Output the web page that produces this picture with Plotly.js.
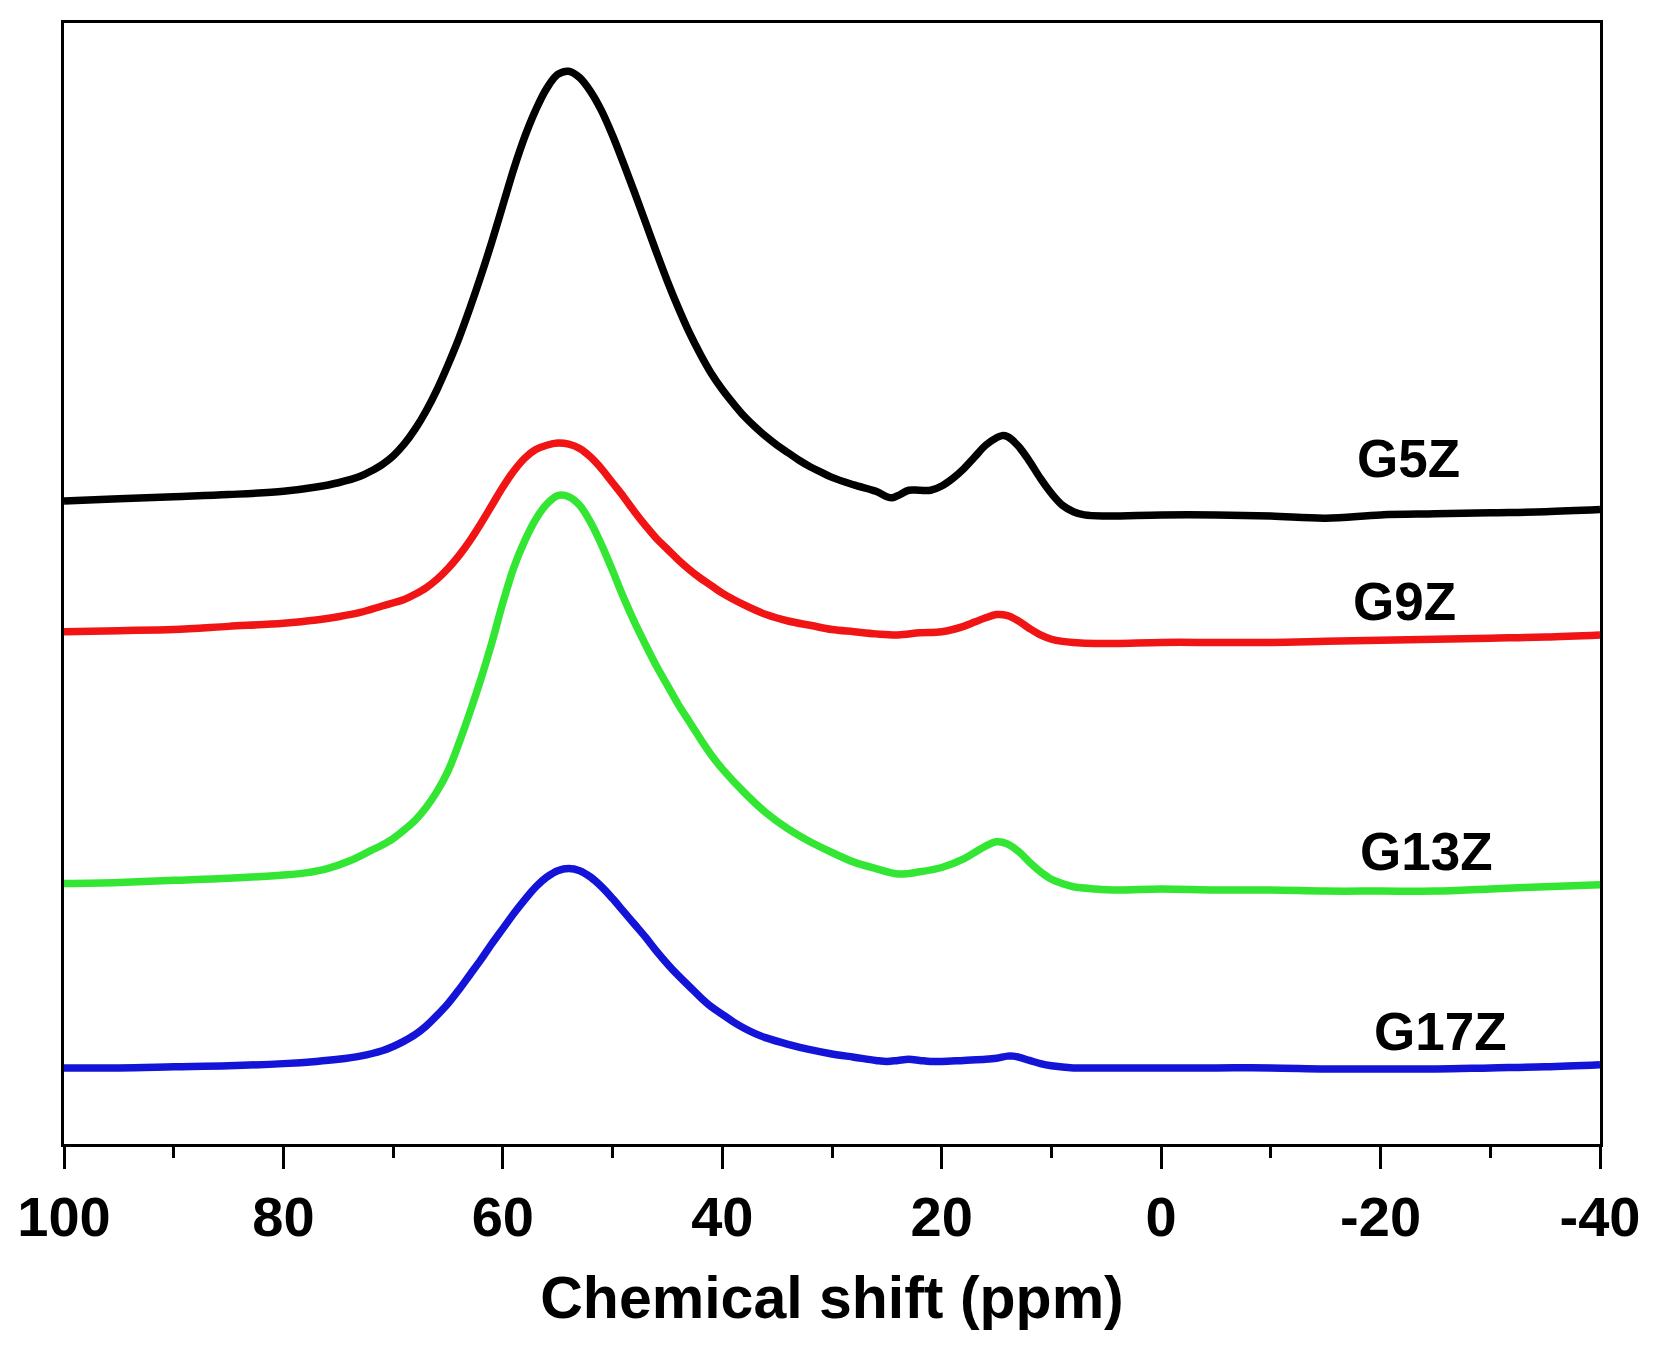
<!DOCTYPE html>
<html>
<head>
<meta charset="utf-8">
<script src="https://cdn.plot.ly/plotly-3.0.1.min.js"></script>
<style>html,body{margin:0;padding:0;background:#fff;}#chart{width:1675px;height:1346px;}</style>
</head>
<body>
<div id="chart"></div>
<script>
// Chemical shift (ppm) and stacked intensities (arbitrary units, spectra stacked with offsets)
const g5zX = [100, 95, 90, 85, 80, 77, 75, 73, 72, 71, 70, 69, 68, 67, 66, 65, 64, 63, 62, 61, 60, 59, 58, 57, 56, 55, 54, 53, 52, 51, 50, 49, 48, 47, 46, 45, 44, 43, 42, 41, 40, 39, 38, 37, 36, 35, 34, 33, 32, 31, 30, 28, 26, 25, 24.5, 24, 23, 22, 21, 20, 19, 18, 17, 16, 15, 14.5, 14, 13, 12, 11, 10, 9, 8, 7, 5, 0, -5, -10, -15, -20, -25, -30, -35, -40];
const g5zY = [600, 602, 604, 606, 609, 613, 617, 623, 628, 634, 642, 653, 667, 684, 704, 727, 752, 780, 810, 842, 876, 910, 940, 965, 985, 998, 1001, 995, 982, 964, 941, 915, 888, 860, 832, 805, 780, 757, 737, 719, 704, 691, 679, 669, 660, 652, 645, 638, 632, 627, 622, 615, 609, 604, 603, 605, 610, 610, 610, 614, 621, 630, 641, 652, 659, 661, 660, 651, 637, 621, 607, 596, 590, 587, 586, 587, 587, 586, 584, 587, 588, 589, 590, 592];

const g9zX = [100, 95, 90, 85, 80, 77, 75, 73, 71, 69, 68, 67, 66, 65, 64, 63, 62, 61, 60, 59, 58, 57, 56, 55, 54, 53, 52, 51, 50, 49, 48, 47, 46, 45, 44, 43, 42, 41, 40, 38, 36, 34, 32, 30, 28, 26, 24, 22, 20, 18, 17, 16, 15, 14, 13, 12, 11, 10, 9, 8, 6, 4, 0, -5, -10, -15, -20, -25, -30, -35, -40];
const g9zY = [478, 479, 480, 483, 486, 489, 492, 496, 502, 508, 513, 519, 527, 537, 549, 563, 579, 596, 613, 628, 640, 648, 652, 654, 653, 649, 641, 630, 617, 604, 590, 577, 565, 555, 545, 536, 528, 521, 514, 503, 494, 488, 484, 480, 478, 476, 475, 477, 478, 483, 487, 491, 494, 493, 488, 481, 475, 471, 469, 468, 467, 467, 468, 468, 468, 469, 470, 471, 472, 473, 475];

const g13zX = [100, 95, 90, 85, 80, 78, 76, 74, 72, 71, 70, 69, 68, 67, 66, 65, 64, 63, 62, 61, 60, 59, 58, 57, 56, 55, 54, 53, 52, 51, 50, 49, 48, 47, 46, 45, 44, 43, 42, 41, 40, 38, 36, 34, 32, 30, 28, 26, 24, 22, 20, 18, 17, 16, 15, 14, 13, 12, 11, 10, 9, 8, 6, 4, 0, -5, -10, -15, -20, -25, -30, -35, -40];
const g13zY = [243, 244, 246, 248, 251, 253, 257, 264, 274, 279, 285, 293, 302, 314, 329, 348, 374, 403, 434, 468, 505, 538, 563, 583, 597, 605, 604, 596, 580, 559, 535, 510, 487, 466, 446, 428, 410, 394, 378, 363, 350, 328, 309, 294, 282, 272, 263, 257, 252, 254, 258, 266, 272, 278, 282, 280, 273, 263, 254, 247, 243, 240, 238, 237, 238, 237, 237, 236, 236, 236, 238, 240, 242];

const g17zX = [100, 95, 90, 85, 80, 77, 75, 73, 71, 70, 69, 68, 67, 66, 65, 64, 63, 62, 61, 60, 59, 58, 57, 56, 55, 54, 53, 52, 51, 50, 49, 48, 47, 46, 45, 44, 43, 42, 41, 40, 39, 38, 37, 36, 34, 32, 30, 28, 26, 25, 24, 23, 22, 21, 20, 18, 16, 15, 14, 13.5, 13, 12, 11, 10, 8, 6, 0, -5, -10, -15, -20, -25, -30, -35, -40];
const g17zY = [71, 71, 72, 73, 75, 77, 79, 82, 87, 91, 96, 102, 110, 120, 131, 144, 158, 172, 187, 201, 215, 228, 240, 249, 255, 257, 255, 249, 240, 229, 217, 205, 193, 180, 168, 157, 147, 137, 128, 121, 114, 108, 103, 99, 93, 88, 84, 81, 78, 77, 78, 79, 78, 77, 77, 78, 79, 80, 82, 82, 81, 78, 75, 73, 71, 71, 71, 71, 71, 70, 70, 70, 71, 72, 74];

const seriesNames = ['G5Z', 'G9Z', 'G13Z', 'G17Z'];
const seriesColors = ['#000000', '#f01414', '#33e633', '#1414d8'];
const labelX = [-22.5, -22.2, -24.2, -25.5];
const labelY = [640, 506, 273, 105];
const xTickVals = [100, 80, 60, 40, 20, 0, -20, -40];
const xTickText = ['100', '80', '60', '40', '20', '0', '-20', '-40'];

const xs = [g5zX, g9zX, g13zX, g17zX];
const ys = [g5zY, g9zY, g13zY, g17zY];

const FONT = 'Liberation Sans, Arial, Helvetica, sans-serif';

const traces = seriesNames.map((n, i) => ({
  type: 'scatter', mode: 'lines', name: n,
  x: xs[i], y: ys[i],
  line: {color: seriesColors[i], width: 7.5, shape: 'spline', smoothing: 1},
  hoverinfo: 'skip'
}));

const annotations = seriesNames.map((n, i) => ({
  x: labelX[i], y: labelY[i], xref: 'x', yref: 'y',
  text: '<b>' + n + '</b>', showarrow: false,
  font: {family: FONT, size: 53, color: '#000'},
  xanchor: 'center', yanchor: 'middle'
}));

const layout = {
  width: 1675, height: 1346,
  margin: {l: 64, r: 75, t: 23, b: 202},
  paper_bgcolor: '#fff', plot_bgcolor: '#fff',
  showlegend: false,
  font: {family: FONT, color: '#000'},
  xaxis: {
    range: [100, -40],
    tickvals: xTickVals, ticktext: xTickText,
    ticks: 'outside', ticklen: 22, tickwidth: 3, tickcolor: '#000',
    minor: {dtick: 10, ticks: 'outside', ticklen: 11, tickwidth: 3, tickcolor: '#000', showgrid: false},
    showline: true, linewidth: 3, linecolor: '#000', mirror: true,
    showgrid: false, zeroline: false,
    tickfont: {family: FONT, size: 56, color: '#000', weight: 'bold'},
    title: {text: '<b>Chemical shift (ppm)</b>', font: {family: FONT, size: 59, color: '#000'}, standoff: 30}
  },
  yaxis: {
    range: [0, 1046],
    showticklabels: false, ticks: '',
    showline: true, linewidth: 3, linecolor: '#000', mirror: true,
    showgrid: false, zeroline: false
  },
  annotations: annotations
};

Plotly.newPlot('chart', traces, layout, {displayModeBar: false, staticPlot: true});
</script>
</body>
</html>
